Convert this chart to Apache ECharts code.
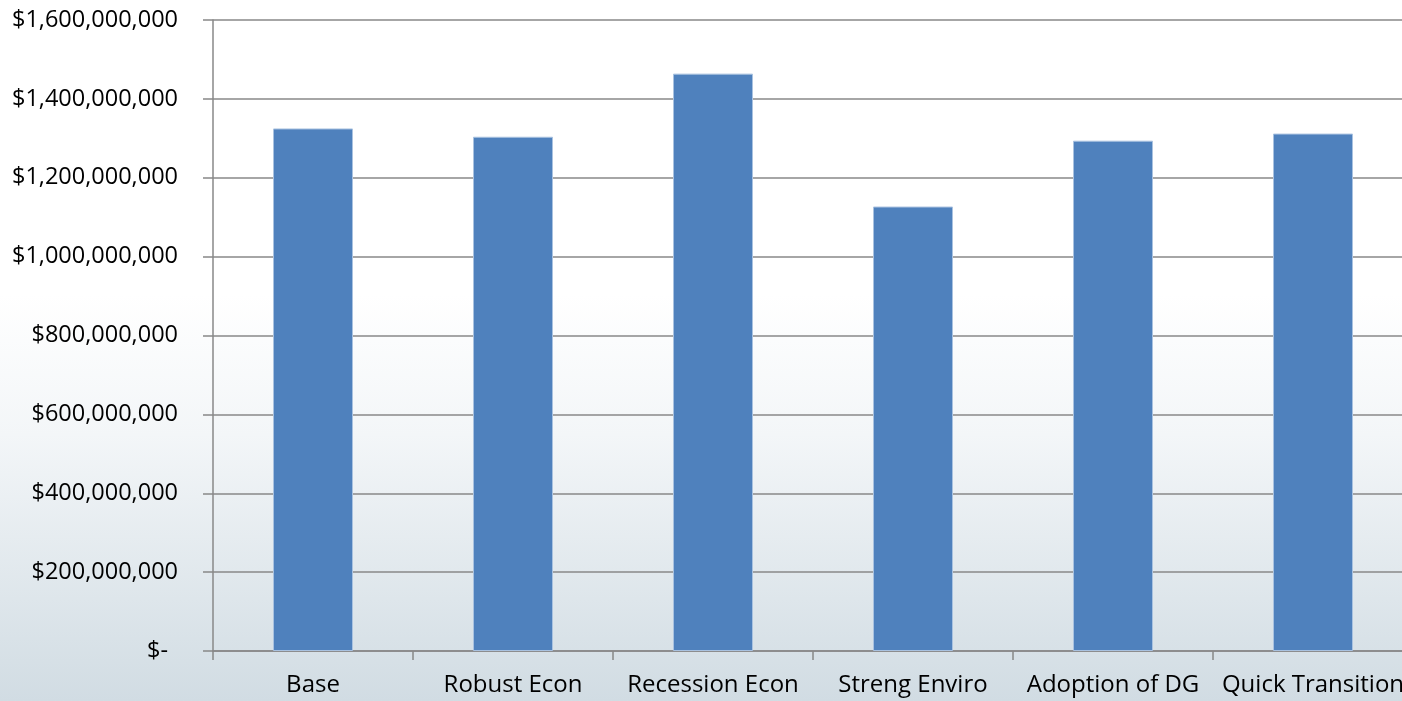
<!DOCTYPE html>
<html>
<head>
<meta charset="utf-8">
<script src="https://cdn.jsdelivr.net/npm/echarts@6/dist/echarts.min.js"></script>
<style>
  html, body { margin: 0; padding: 0; overflow: hidden; }
  #chart {
    width: 1420px; height: 701px;
    background: linear-gradient(to bottom, #ffffff 0%, #ffffff 42%, #f3f6f8 62%, #d1dce3 100%);
  }
</style>
</head>
<body>
<div id="chart"></div>
<script>
// scenario totals
const scenarios = ['Base', 'Robust Econ', 'Recession Econ', 'Streng Enviro', 'Adoption of DG', 'Quick Transition'];
const totals = [1325000000, 1304000000, 1464000000, 1127000000, 1294000000, 1312000000];
const yTicks = [0, 200000000, 400000000, 600000000, 800000000, 1000000000, 1200000000, 1400000000, 1600000000];

const chart = echarts.init(document.getElementById('chart'));

function money(v) {
  if (v === 0) return '{z|$-}';
  return '$' + v.toLocaleString('en-US');
}

const lineColor = '#888888';
const font = 'Open Sans';

// chart div is a bit wider than the window so the last category gets clipped like the original
chart.setOption({
  animation: false,
  grid: { left: 213, top: 20, right: 7, height: 631, containLabel: false },
  xAxis: {
    type: 'category',
    data: scenarios,
    axisLine: { lineStyle: { color: lineColor, width: 1.5 } },
    axisTick: { show: true, length: 9, lineStyle: { color: lineColor, width: 1.5 } },
    axisLabel: { interval: 0, margin: 22, color: '#000', fontFamily: font, fontSize: 24 }
  },
  yAxis: {
    type: 'value',
    min: yTicks[0],
    max: yTicks[yTicks.length - 1],
    interval: yTicks[1] - yTicks[0],
    axisLine: { show: true, lineStyle: { color: lineColor, width: 1.5 } },
    axisTick: { show: true, length: 10, lineStyle: { color: lineColor, width: 1.5 } },
    splitLine: { lineStyle: { color: lineColor, width: 1.5 } },
    axisLabel: {
      margin: 35, color: '#000', fontFamily: font, fontSize: 23.5,
      formatter: money,
      rich: { z: { fontFamily: font, fontSize: 23.5, color: '#000', padding: [0, 10, 0, 0] } }
    }
  },
  series: [{
    type: 'bar',
    data: totals,
    barWidth: 80,
    itemStyle: { color: '#4f81bd', borderColor: '#a9c2e0', borderWidth: 1 }
  }]
});
</script>
</body>
</html>
